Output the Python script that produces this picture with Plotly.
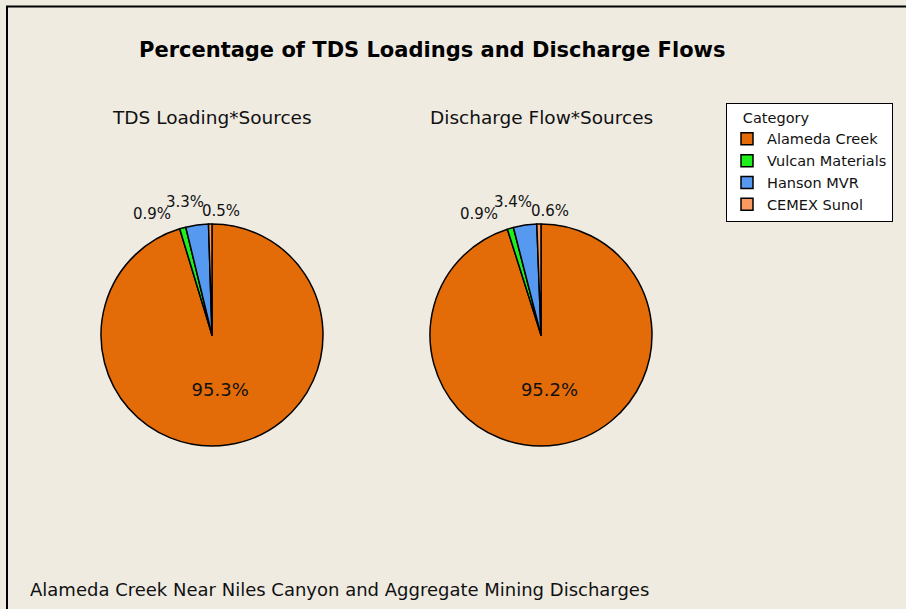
import math
import plotly.graph_objects as go

W, H = 906, 609

categories = ["Alameda Creek", "Vulcan Materials", "Hanson MVR", "CEMEX Sunol"]
tds_loading = [95.3, 0.9, 3.3, 0.5]
discharge_flow = [95.2, 0.9, 3.4, 0.6]
pie_titles = ["TDS Loading*Sources", "Discharge Flow*Sources"]

colors = ["#E36C09", "#1EF01E", "#5599F0", "#FA9A60"]
BG = "#EFEBE1"
FONT = "DejaVu Sans"
R = 111
CY = 335
# small-slice label placement: radial distance factor and horizontal nudge
LABEL_K = [None, 1.13, 1.21, 1.12]
LABEL_DX = [0, -27, -9, 11]


def px_domain(cx, cy, r):
    return dict(x=[(cx - r) / W, (cx + r) / W], y=[1 - (cy + r) / H, 1 - (cy - r) / H])


fig = go.Figure()
annotations = []
for vals, cx in [(tds_loading, 212), (discharge_flow, 541)]:
    fig.add_trace(go.Pie(
        labels=categories,
        values=vals,
        sort=False,
        direction="clockwise",
        rotation=0,
        domain=px_domain(cx, CY, R),
        marker=dict(colors=colors, line=dict(color="black", width=1.5)),
        texttemplate=["%{value:.1f}%", "", "", ""],
        textposition="inside",
        insidetextorientation="horizontal",
        insidetextfont=dict(family=FONT, size=18, color="#111111"),
        hoverinfo="label+value",
    ))
    # outside labels for the thin slices, placed at the slice's mid-angle
    total = sum(vals)
    cum = 0
    for i, v in enumerate(vals):
        mid = (cum + v / 2) / total * 2 * math.pi
        cum += v
        if LABEL_K[i] is None:
            continue
        x = cx + R * LABEL_K[i] * math.sin(mid) + LABEL_DX[i]
        y = CY - R * LABEL_K[i] * math.cos(mid)
        annotations.append(dict(text=f"{v:.1f}%", x=x / W, y=1 - y / H, xanchor="center",
                                font=dict(size=15, family=FONT, color="#111111")))

annotations += [
    dict(text="<b>Percentage of TDS Loadings and Discharge Flows</b>", x=432 / W, y=1 - 50 / H,
         font=dict(size=21, family=FONT, color="black")),
    dict(text=pie_titles[0], x=212 / W, y=1 - 118 / H, font=dict(size=18.5, family=FONT, color="#111111")),
    dict(text=pie_titles[1], x=541 / W, y=1 - 118 / H, font=dict(size=18.5, family=FONT, color="#111111")),
    dict(text="Alameda Creek Near Niles Canyon and Aggregate Mining Discharges", x=28 / W, y=1 - 589 / H,
         xanchor="left", font=dict(size=18, family=FONT, color="#111111")),
]
for a in annotations:
    a.setdefault("xanchor", "center")
    a.update(xref="paper", yref="paper", yanchor="middle", showarrow=False)

fig.update_layout(
    width=W, height=H,
    margin=dict(l=0, r=0, t=0, b=0),
    paper_bgcolor=BG, plot_bgcolor=BG,
    annotations=annotations,
    legend=dict(
        title=dict(text="   Category", font=dict(size=14.5, family=FONT, color="#111111")),
        font=dict(size=14.5, family=FONT, color="#111111"),
        x=726 / W, y=1 - 103 / H, xanchor="left", yanchor="top",
        bgcolor="white", bordercolor="black", borderwidth=1,
        tracegroupgap=0, itemwidth=30,
    ),
    shapes=[dict(type="rect", xref="paper", yref="paper", x0=7 / W, x1=1.05, y0=-0.05, y1=1 - 6.5 / H,
                 line=dict(color="black", width=2), fillcolor="rgba(0,0,0,0)")],
)

fig.write_html("out.html", config={"displayModeBar": False},
               post_script="document.body.style.margin='0';")
